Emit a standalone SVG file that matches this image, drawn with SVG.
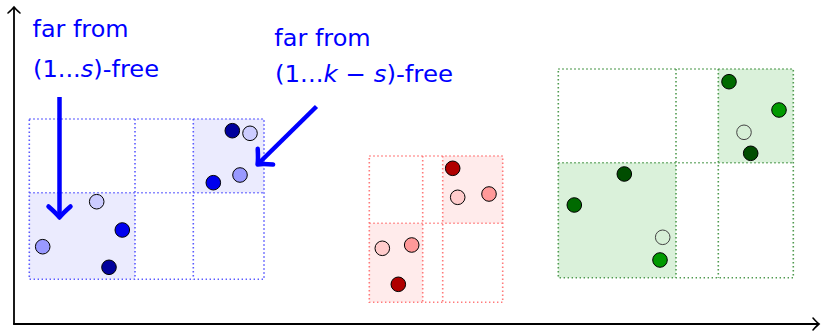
<svg xmlns="http://www.w3.org/2000/svg" width="821" height="332" viewBox="0 0 821 332">
<style>
.lbl{font-family:"DejaVu Sans","Liberation Sans",sans-serif;font-size:23px;fill:#0000ff}
.it{font-style:italic}
.pt{stroke:#000;stroke-width:1}
.bdot{fill:none;stroke:#5a5aff;stroke-width:1.6;stroke-dasharray:1.4 2.6}
.rdot{fill:none;stroke:#ff7a7a;stroke-width:1.6;stroke-dasharray:1.4 2.6}
.gdot{fill:none;stroke:#4f9a4f;stroke-width:1.6;stroke-dasharray:1.4 2.6}
.axis{fill:none;stroke:#000;stroke-width:1.8}
.big{fill:none;stroke:#0000ff;stroke-width:4.5}
</style>
<defs>
<marker id="bighead" markerUnits="userSpaceOnUse" viewBox="-16 -16 20 32" markerWidth="20" markerHeight="32" refX="-2" refY="0" orient="auto" overflow="visible">
<path d="M -11 -11 Q -4 -3 0 0 Q -4 3 -11 11" fill="none" stroke="#0000ff" stroke-width="4.5" stroke-linecap="round" stroke-linejoin="round"/>
</marker>
<marker id="axhead" markerUnits="userSpaceOnUse" viewBox="-10 -10 14 20" markerWidth="14" markerHeight="20" refX="-1" refY="0" orient="auto" overflow="visible">
<path d="M -6 -6 Q -2 -1.5 0 0 Q -2 1.5 -6 6" fill="none" stroke="#000" stroke-width="1.6" stroke-linecap="round"/>
</marker>
</defs>

<g id="axes">
<path class="axis" d="M 14 324 L 14 8" marker-end="url(#axhead)"/>
<path class="axis" d="M 13.1 324 L 818 324" marker-end="url(#axhead)"/>
</g>

<g id="blue-grid">
<rect x="29.3" y="192.7" width="105.7" height="86.6" fill="#ebebfe"/>
<rect x="193.3" y="119" width="70.7" height="73.7" fill="#ebebfe"/>
<rect class="bdot" x="29.3" y="119" width="234.7" height="160.3"/>
<line class="bdot" x1="135" y1="119" x2="135" y2="279.3"/>
<line class="bdot" x1="193.3" y1="119" x2="193.3" y2="279.3"/>
<line class="bdot" x1="29.3" y1="192.7" x2="264" y2="192.7"/>
<circle class="pt" cx="232.3" cy="130.7" r="7.3" fill="#00009c"/>
<circle class="pt" cx="250" cy="133.3" r="7.3" fill="#ccccff"/>
<circle class="pt" cx="240" cy="175" r="7.3" fill="#9999ff"/>
<circle class="pt" cx="213.3" cy="182.7" r="7.3" fill="#0000ee"/>
<circle class="pt" cx="96.7" cy="201.7" r="7.3" fill="#ccccff"/>
<circle class="pt" cx="122.3" cy="230" r="7.3" fill="#0000ee"/>
<circle class="pt" cx="42.7" cy="246.7" r="7.3" fill="#9999ff"/>
<circle class="pt" cx="109" cy="267.3" r="7.3" fill="#00009c"/>
</g>

<g id="red-grid">
<rect x="442.7" y="156" width="60" height="67.3" fill="#ffebeb"/>
<rect x="369.3" y="223.3" width="53.4" height="79" fill="#ffebeb"/>
<rect class="rdot" x="369.3" y="156" width="133.4" height="146.3"/>
<line class="rdot" x1="422.7" y1="156" x2="422.7" y2="302.3"/>
<line class="rdot" x1="442.7" y1="156" x2="442.7" y2="302.3"/>
<line class="rdot" x1="369.3" y1="223.3" x2="502.7" y2="223.3"/>
<circle class="pt" cx="452.7" cy="168.3" r="7.3" fill="#b00000"/>
<circle class="pt" cx="457.7" cy="197.3" r="7.3" fill="#ffcccc"/>
<circle class="pt" cx="489" cy="194" r="7.3" fill="#ff9999"/>
<circle class="pt" cx="382.3" cy="248.3" r="7.3" fill="#ffcccc"/>
<circle class="pt" cx="411.7" cy="245" r="7.3" fill="#ff9999"/>
<circle class="pt" cx="398.3" cy="284.3" r="7.3" fill="#b00000"/>
</g>

<g id="green-grid">
<rect x="718.3" y="69" width="75" height="93.7" fill="#daf1da"/>
<rect x="558.3" y="162.7" width="117.7" height="115" fill="#daf1da"/>
<rect class="gdot" x="558.3" y="69" width="235" height="208.7"/>
<line class="gdot" x1="676" y1="69" x2="676" y2="277.7"/>
<line class="gdot" x1="718.3" y1="69" x2="718.3" y2="277.7"/>
<line class="gdot" x1="558.3" y1="162.7" x2="793.3" y2="162.7"/>
<circle class="pt" cx="729" cy="81.7" r="7.3" fill="#006a00"/>
<circle class="pt" cx="779" cy="110" r="7.3" fill="#009a00"/>
<circle cx="744" cy="132.3" r="7.3" fill="#d6efd6" stroke="#444" stroke-width="1"/>
<circle class="pt" cx="750.7" cy="153.3" r="7.3" fill="#004d00"/>
<circle class="pt" cx="624.3" cy="174" r="7.3" fill="#004d00"/>
<circle class="pt" cx="574.3" cy="205" r="7.3" fill="#006a00"/>
<circle cx="662.7" cy="237.3" r="7.3" fill="#d6efd6" stroke="#444" stroke-width="1"/>
<circle class="pt" cx="660" cy="260" r="7.3" fill="#009a00"/>
</g>

<g id="label-left">
<text class="lbl" x="32.5" y="37.3" textLength="96" lengthAdjust="spacingAndGlyphs">far from</text>
<text class="lbl" x="33" y="77" textLength="126" lengthAdjust="spacingAndGlyphs">(1...<tspan class="it">s</tspan>)-free</text>
</g>

<g id="label-right">
<text class="lbl" x="274.3" y="46" textLength="96.4" lengthAdjust="spacingAndGlyphs">far from</text>
<text class="lbl" x="275" y="82.3" textLength="178" lengthAdjust="spacingAndGlyphs">(1...<tspan class="it">k</tspan> − <tspan class="it">s</tspan>)-free</text>
</g>

<g id="connectors">
<path class="big" d="M 59.5 97 L 59.5 215.5" marker-end="url(#bighead)"/>
<path class="big" d="M 316.5 106.5 L 259 163" marker-end="url(#bighead)"/>
</g>
</svg>
